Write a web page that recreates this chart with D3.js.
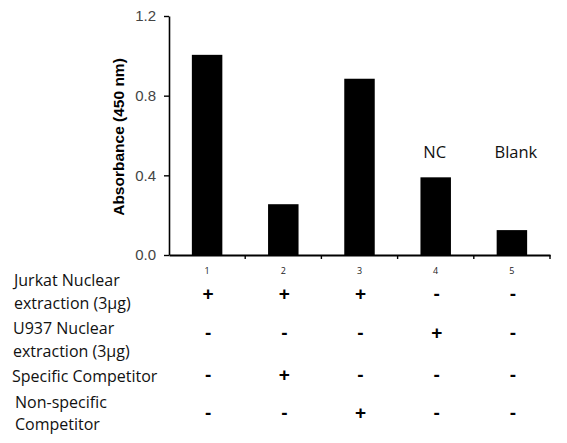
<!DOCTYPE html>
<html>
<head>
<meta charset="utf-8">
<script src="https://cdn.jsdelivr.net/npm/d3@7"></script>
<style>
  body { margin: 0; background: #fff; }
  .lbl { font-family: "Open Sans", sans-serif; font-size: 16px; fill: #111; }
  .sym { font-family: "Liberation Sans", Arial, sans-serif; font-size: 19px; font-weight: bold; fill: #000; }
</style>
</head>
<body>
<svg id="chart"></svg>
<script>
// data
const lanes = ["1", "2", "3", "4", "5"];
const absorbance = [1.005, 0.255, 0.885, 0.39, 0.125];
const yTicks = [0, 0.4, 0.8, 1.2];
const barNotes = [null, null, null, "NC", "Blank"];

// condition table below the chart
const rowNames = [
  ["Jurkat Nuclear", "extraction (3\u03bcg)"],
  ["U937 Nuclear", "extraction (3\u03bcg)"],
  ["Specific Competitor"],
  ["Non-specific", "Competitor"]
];
const jurkat = ["+", "+", "+", "-", "-"];
const u937 = ["-", "-", "-", "+", "-"];
const specific = ["-", "+", "-", "-", "-"];
const nonSpecific = ["-", "-", "+", "-", "-"];
const conditions = [jurkat, u937, specific, nonSpecific];

const width = 567;
const height = 443;
const margin = { left: 169, right: 17, top: 16, bottom: 188 };

const svg = d3.select("svg#chart").attr("width", width).attr("height", height);

const x = d3.scaleBand().domain(lanes).range([margin.left, width - margin.right]).padding(0);
const y = d3.scaleLinear().domain([0, 1.2]).range([height - margin.bottom, margin.top]);
const barW = x.bandwidth() * 0.4;

// bars
svg.selectAll(".bar")
  .data(absorbance)
  .enter().append("rect")
  .attr("class", "bar")
  .attr("x", (d, i) => x(lanes[i]) + (x.bandwidth() - barW) / 2)
  .attr("y", d => y(d))
  .attr("width", barW)
  .attr("height", d => y(0) - y(d))
  .attr("fill", "#000");

// NC / Blank notes
svg.selectAll(".note")
  .data(barNotes)
  .enter().filter(d => d).append("text")
  .attr("class", "lbl")
  .attr("x", (d, i) => x(lanes[i + 3]) + x.bandwidth() / 2 + (i === 0 ? -1 : 4))
  .attr("y", 158)
  .attr("text-anchor", "middle")
  .style("font-size", "16.5px")
  .text(d => d);

// y axis
const yAxis = svg.append("g")
  .attr("transform", `translate(${margin.left},0)`)
  .call(d3.axisLeft(y).tickValues(yTicks).tickFormat(d3.format(".1f")).tickSize(5).tickSizeOuter(0).tickPadding(8));
yAxis.select(".domain").attr("stroke", "#000").attr("stroke-width", 1.6);
yAxis.selectAll(".tick line").attr("stroke", "#000").attr("stroke-width", 1.4);
yAxis.selectAll(".tick text")
  .attr("font-family", "Liberation Sans, Arial, sans-serif")
  .attr("font-size", 15)
  .attr("fill", "#444");

// x axis, lane numbers under each bar
const xAxis = svg.append("g")
  .attr("transform", `translate(0,${y(0)})`)
  .call(d3.axisBottom(x).tickSize(0).tickSizeOuter(0).tickPadding(13));
xAxis.select(".domain").attr("stroke", "#000").attr("stroke-width", 2);
xAxis.selectAll(".tick text")
  .attr("font-family", "Open Sans, sans-serif")
  .attr("font-size", 9)
  .attr("fill", "#222");

// small ticks between lanes
svg.selectAll(".sep")
  .data(lanes)
  .enter().append("line")
  .attr("x1", d => x(d) + x.bandwidth())
  .attr("x2", d => x(d) + x.bandwidth())
  .attr("y1", y(0))
  .attr("y2", y(0) + 4)
  .attr("stroke", "#000")
  .attr("stroke-width", 1.4);

// y axis title
svg.append("text")
  .attr("transform", `translate(124,137) rotate(-90)`)
  .attr("text-anchor", "middle")
  .attr("font-family", "Liberation Sans, Arial, sans-serif")
  .attr("font-weight", "bold")
  .attr("font-size", 15.5)
  .attr("fill", "#000")
  .text("Absorbance (450 nm)");

// condition table
const nameLines = [[286, 309], [334, 357], [382], [408, 430]];
const nameX = [14, 13, 12, 15];
const symY = [293, 332, 374, 412];

rowNames.forEach((lines, r) => {
  lines.forEach((t, k) => {
    svg.append("text")
      .attr("class", "lbl")
      .attr("x", nameX[r])
      .attr("y", nameLines[r][k])
      .text(t);
  });

  svg.selectAll(".sym" + r)
    .data(conditions[r])
    .enter().append("text")
    .attr("class", "sym")
    .attr("x", (d, i) => x(lanes[i]) + x.bandwidth() / 2 + 1)
    .attr("y", symY[r])
    .attr("dy", "0.35em")
    .attr("text-anchor", "middle")
    .text(d => d);
});
</script>
</body>
</html>
